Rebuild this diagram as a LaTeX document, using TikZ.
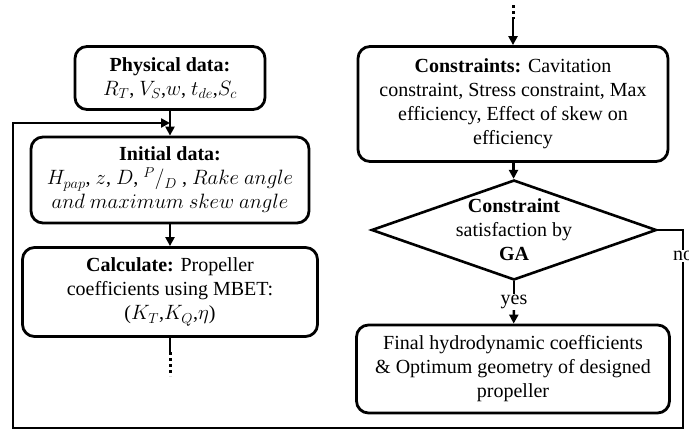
\documentclass[tikz,border=0pt]{standalone}
\usepackage{fontspec}
\setmainfont{Liberation Serif}
\usetikzlibrary{shapes.geometric}
\usetikzlibrary{arrows.meta}

\begin{document}
\begin{tikzpicture}
      [
        x=1pt, y=-1pt,
        box/.style = {draw, line width=2.8pt, rounded corners=12pt, align=center, inner sep=0pt},
        ln/.style = {line width=2.6pt},
        arr/.style = {line width=2.6pt, -{Triangle[length=9pt,width=9pt]}},
        dots/.style = {line width=3pt, dash pattern=on 3pt off 3pt},
        font = \fontsize{20}{24}\selectfont
      ]
      \useasboundingbox (0,0) rectangle (689,431);

      \node[box, minimum width=190, minimum height=63] (phys) at (170,78)
        {\textbf{Physical data:}\\ $R_T$, $V_S$,$w$, $t_{de}$,$S_c$};
      \node[box, minimum width=278, minimum height=86] (init) at (170,180)
        {\textbf{Initial data:}\\ $H_{pap}$, $z$, $D$, ${}^{P}/_{D}$ , $Rake\ angle$\\ $and\ maximum\ skew\ angle$};
      \node[box, minimum width=295, minimum height=89] (calc) at (170,292)
        {\textbf{Calculate:} Propeller\\ coefficients using MBET:\\ ($K_T$,$K_Q$,$\eta$)};

      \node[box, minimum width=310, minimum height=115] (cons) at (513,104)
        {\textbf{Constraints:} Cavitation\\ constraint, Stress constraint, Max\\ efficiency, Effect of skew on\\ efficiency};
      \node[diamond, draw, line width=2.6pt, aspect=2.85, minimum width=285, minimum height=100, inner sep=-6pt, align=center] (ga) at (514,230)
        {\textbf{Constraint}\\ satisfaction by\\ \textbf{GA}};
      \node[inner sep=1pt] (yes) at (514,302) {yes};
      \node[box, minimum width=313, minimum height=88] (final) at (513,369)
        {Final hydrodynamic coefficients\\ \& Optimum geometry of designed\\ propeller};
      \node[inner sep=1pt] (no) at (683,256) {no};

      \coordinate (topdots) at (513,5);
      \coordinate (topsolid) at (513,19);
      \coordinate (calcend) at (170,352);
      \coordinate (calcdots) at (170,376);
      \coordinate (loopbr) at (683,428);
      \coordinate (loopbl) at (13,428);
      \coordinate (loopin) at (13,123);

      \draw[arr] (phys) -- (init);
      \draw[arr] (init) -- (calc);
      \draw[ln] (calc) -- (calcend);
      \draw[dots] (calcend) -- (calcdots);

      \draw[dots] (topdots) -- (topsolid);
      \draw[arr] (topsolid) -- (cons);
      \draw[arr] (cons) -- (ga);
      \draw[ln] (ga) -- (yes);
      \draw[arr] (yes) -- (final);

      \draw[ln] (ga.east) -| (no.north);
      \draw[arr] (no.south) -- (loopbr) -- (loopbl) -- (loopin) -- (phys.south |- loopin);

    \end{tikzpicture}
\end{document}
